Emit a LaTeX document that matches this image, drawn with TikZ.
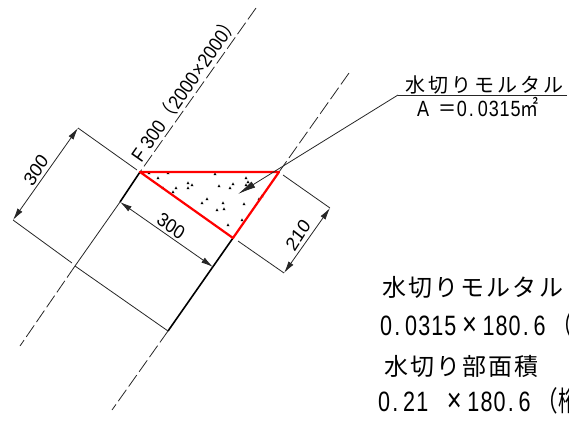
\documentclass[tikz,border=0pt]{standalone}
\usepackage{fontspec}
\setmainfont{Liberation Sans}
\newfontfamily\numf[LetterSpace=5]{Liberation Sans}
\newfontfamily\jp{Noto Sans CJK JP}
\newfontfamily\jpa[LetterSpace=9]{Noto Sans CJK JP}
\newfontfamily\jpb[LetterSpace=15]{Noto Sans CJK JP}
\usetikzlibrary{arrows.meta}
\newcommand\pd{\makebox[0.606em]{\hspace{-0.12em}.}}
\newcommand\cellsp{\hspace{0.606em}}
\newcommand\tm{\makebox[1.212em]{\fontsize{33}{33}\selectfont ×}}
\newcommand\opn{\makebox[1.28em][r]{\jp （}}
\tikzset{
  thinline/.style={line width=0.8pt,black!85},
  boldline/.style={line width=1.6pt,black},
  dashline/.style={line width=0.8pt,black!85,dash pattern=on 14pt off 4pt},
  redline/.style={line width=2.2pt,red},
  dim/.style={thinline,{Latex[length=12pt,width=6pt]}-{Latex[length=12pt,width=6pt]}},
  lead/.style={thinline,-{Latex[length=18pt,width=7pt]}},
  dimtext/.style={inner sep=0pt,font=\fontsize{19.5}{20}\selectfont,xscale=0.9},
  jptext/.style={inner sep=0pt,anchor=west,font=\jpa\fontsize{24}{24}\selectfont},
  numtext/.style={inner sep=0pt,anchor=west,xscale=0.77,font=\numf\fontsize{28}{28}\selectfont},
  speck/.style={fill=black,draw=none}
}
\begin{document}
\begin{tikzpicture}[x=1pt,y=-1pt]
\useasboundingbox (0,0) rectangle (569,423);
\clip (0,0) rectangle (569,423);
% reference points
\coordinate (A) at (140,172);
\coordinate (B) at (279,172);
\coordinate (C) at (233,238);
\coordinate (T1) at (256,8);
\coordinate (T2) at (349,73);
\coordinate (L1a) at (120,202);
\coordinate (L1b) at (75,266);
\coordinate (L1c) at (20,346);
\coordinate (L2a) at (168,331);
\coordinate (L2c) at (112,410);
\coordinate (E1) at (137,170);
\coordinate (D1) at (78,128);
\coordinate (D2) at (13,220);
\coordinate (E2) at (72,263);
\coordinate (D3) at (213,267);
\coordinate (E3) at (283,175);
\coordinate (D4) at (330,208);
\coordinate (E4) at (238,241);
\coordinate (D5) at (284,273);
\coordinate (Ltip) at (238,194);
\coordinate (Lk) at (398,95);
\coordinate (Lend) at (567,95);
% centre lines
\draw[dashline] (T1) -- (A);
\draw[dashline] (L1b) -- (L1c);
\draw[dashline] (T2) -- (B);
\draw[dashline] (L2a) -- (L2c);
\draw[boldline] (A) -- (L1a);
\draw[thinline] (L1a) -- (L1b);
\draw[boldline] (C) -- (L2a);
\draw[thinline] (L1b) -- (L2a);
% extension and dimension lines
\draw[thinline] (E1) -- (D1);
\draw[thinline] (E2) -- (D2);
\draw[dim] (D1) -- (D2);
\draw[dim] (L1a) -- (D3);
\draw[thinline] (E3) -- (D4);
\draw[thinline] (E4) -- (D5);
\draw[dim] (D4) -- (D5);
% specks
\foreach \p in {(149,173),(168,173),(215,174),(158,178),(163,188),(176,188),(173,192),(188,183),(192,185),(188,188),(219,186),(233,184),(230,188),(246,178),(248,182),(246,185),(207,199),(202,203),(223,203),(217,210),(224,209),(244,204),(259,199),(262,196),(242,220),(228,225)}
  \fill[speck] \p ++(-1.5,1.2) -- ++(3,0) -- ++(-1.5,-2.8) -- cycle;
% red section
\draw[redline,line join=round] (A) -- (B) -- (C) -- cycle;
% leader
\draw[thinline] (Lend) -- (Lk);
\draw[lead] (Lk) -- (Ltip);
% labels
\node[dimtext,rotate=55] (n300a) at (36,170) {300};
\node[dimtext,rotate=-35] (n300b) at (171,226) {300};
\node[dimtext,rotate=55] (n210) at (298,235) {210};
\node[inner sep=0pt,rotate=55,xscale=0.9,font=\fontsize{19.5}{20}\selectfont] (nf) at (184.5,88.5) {F\hspace{5pt}300\hspace{2pt}{\jp （}2000\hspace{1pt}×\hspace{1pt}2000{\jp ）}};
\node[inner sep=0pt,anchor=west,font=\jpb\fontsize{20}{20}\selectfont] (nm) at (405,85) {水切りモルタル};
\node[inner sep=0pt,anchor=west,xscale=0.82,font=\numf\fontsize{22}{22}\selectfont] (na) at (417,107) {\makebox[1.2em][l]{A}{\jp ＝}0\pd 0315{\jp ㎡}};
\node[jptext] (t1) at (382,287) {水切りモルタル};
\node[numtext] (t2) at (380,325) {0\pd 0315\tm 180\pd 6\opn{\jp 桁}};
\node[jptext] (t3) at (384,366) {水切り部面積};
\node[numtext] (t4) at (378,401) {0\pd 21\cellsp\tm 180\pd 6\opn{\jp 桁}};
\end{tikzpicture}
\end{document}
